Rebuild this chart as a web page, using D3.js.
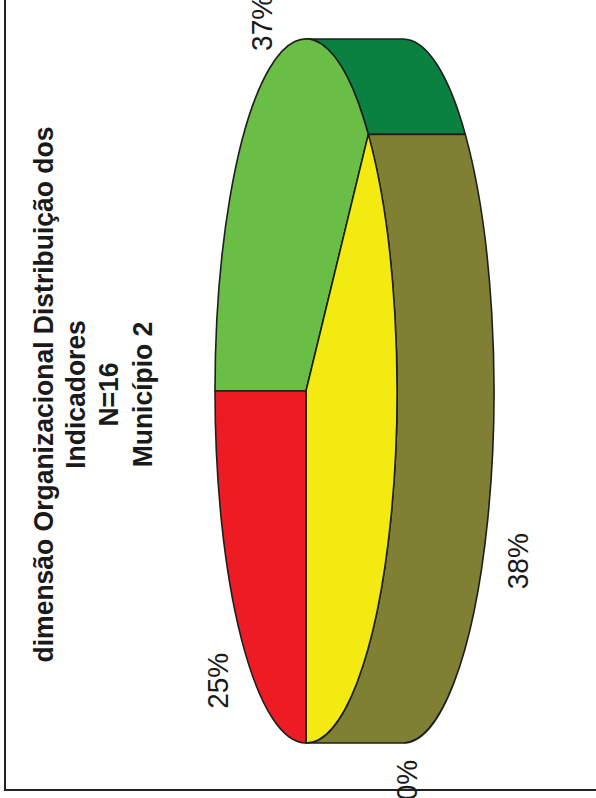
<!DOCTYPE html>
<html>
<head>
<meta charset="utf-8">
<script src="https://cdn.jsdelivr.net/npm/d3@7"></script>
<style>
  html, body { margin: 0; padding: 0; background: #fff; }
  svg { display: block; }
</style>
</head>
<body>
<script>
// ---- data ----
const categories = ["Adequado", "Parcialmente adequado", "Sem informação", "Inadequado"];
const percents   = [37, 38, 0, 25];
const topColors  = ["#6abd45", "#f2ea10", "#3465a4", "#ed1c24"];
const sideColors = ["#0a8140", "#808034", "#1f3f70", "#9e1318"];
const titleLines = ["dimensão Organizacional Distribuição dos", "Indicadores", "N=16", "Município 2"];

// ---- layout ----
const W = 596, H = 798;          // page
const CW = 798, CH = 596;        // landscape chart, turned a quarter turn
const cx = 407, cy = 306;        // pie centre
const rx = 352, ry = 91;         // top ellipse radii
const depth = 97;                // pie thickness
const stroke = "#1e1e1e";
const fontFamily = "'Liberation Sans', Arial, Helvetica, sans-serif";
const stretch = 1.07;            // vertical stretch of the lettering
// fine placement of the percentage labels (dx, dy)
const labelNudge = [[1, 3], [-23, 3], [11, 3], [-7, -4]];

const data = categories.map((c, i) => ({ category: c, value: percents[i], i }));

const svg = d3.select("body").append("svg")
  .attr("width", W).attr("height", H);

const g = svg.append("g")
  .attr("transform", `translate(0,${H}) rotate(-90)`);

// frame
g.append("rect")
  .attr("x", 8).attr("y", 5)
  .attr("width", CW + 20).attr("height", CH + 20)
  .attr("fill", "none").attr("stroke", "#222").attr("stroke-width", 2);

// ---- pie ----
const pie = d3.pie().sort(null).value(d => d.value).startAngle(0).endAngle(2 * Math.PI);
const arcs = pie(data);

const ptTop = a => [cx + rx * Math.sin(a), cy - ry * Math.cos(a)];
const ptBot = a => [cx + rx * Math.sin(a), cy - ry * Math.cos(a) + depth];

// outer side walls of the front half
const sides = g.append("g");
arcs.forEach(d => {
  const a0 = Math.max(d.startAngle, Math.PI / 2);
  const a1 = Math.min(d.endAngle, 3 * Math.PI / 2);
  if (a1 <= a0) return;
  const t0 = ptTop(a0), t1 = ptTop(a1), b0 = ptBot(a0), b1 = ptBot(a1);
  const large = (a1 - a0) > Math.PI ? 1 : 0;
  const p = `M${t0[0]},${t0[1]} A${rx},${ry} 0 ${large} 1 ${t1[0]},${t1[1]}` +
            ` L${b1[0]},${b1[1]} A${rx},${ry} 0 ${large} 0 ${b0[0]},${b0[1]} Z`;
  sides.append("path")
    .attr("d", p)
    .attr("fill", sideColors[d.data.i])
    .attr("stroke", stroke)
    .attr("stroke-width", 1.6)
    .attr("stroke-linejoin", "round");
});

// top face: unit-circle slices squashed into the ellipse
const arc = d3.arc().innerRadius(0).outerRadius(1);
g.append("g")
  .attr("transform", `translate(${cx},${cy}) scale(${rx},${ry})`)
  .selectAll("path")
  .data(arcs.filter(d => d.value > 0))
  .join("path")
  .attr("d", arc)
  .attr("fill", d => topColors[d.data.i])
  .attr("stroke", stroke)
  .attr("stroke-width", 1.6)
  .attr("stroke-linejoin", "round")
  .attr("vector-effect", "non-scaling-stroke");

// ---- percentage labels ----
const R = 400, r = 120;
g.append("g")
  .selectAll("text")
  .data(arcs)
  .join("text")
  .attr("transform", d => {
    const m = (d.startAngle + d.endAngle) / 2;
    const c = Math.cos(m);
    const x = cx + R * Math.sin(m) + labelNudge[d.data.i][0];
    const y = cy - r * c + (c < 0 ? depth : 0) + labelNudge[d.data.i][1];
    return `translate(${x},${y}) scale(1,${stretch})`;
  })
  .attr("text-anchor", "middle")
  .attr("dy", "0.36em")
  .attr("font-family", fontFamily)
  .attr("font-size", 28)
  .attr("fill", "#1a1a1a")
  .text(d => `${d.data.value}%`);

// ---- title ----
const titleBaselines = [53, 85, 118, 152];
g.append("g")
  .selectAll("text")
  .data(titleLines)
  .join("text")
  .attr("transform", (d, i) => `translate(403.5,${titleBaselines[i]}) scale(1,${stretch})`)
  .attr("text-anchor", "middle")
  .attr("font-family", fontFamily)
  .attr("font-weight", "bold")
  .attr("font-size", 26.5)
  .attr("fill", "#1a1a1a")
  .text(d => d);
</script>
</body>
</html>
